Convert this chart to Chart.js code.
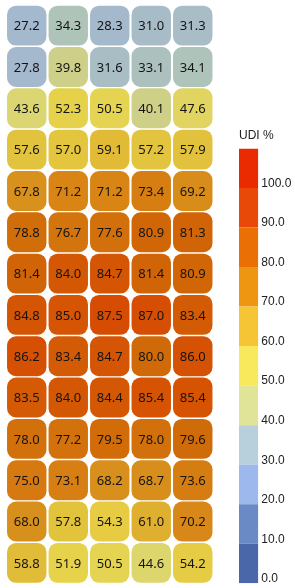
<!DOCTYPE html>
<html>
<head>
<meta charset="utf-8">
<script src="https://cdn.jsdelivr.net/npm/chart.js@4.4.0/dist/chart.umd.min.js"></script>
<style>
  body { margin: 0; background: #fff; }
  #heatBox { position: absolute; left: 0; top: 0; width: 220px; height: 588px; }
  #barBox { position: absolute; left: 220px; top: 0; width: 75px; height: 588px; }
</style>
</head>
<body>
<div id="heatBox"><canvas id="heatChart"></canvas></div>
<div id="barBox"><canvas id="scaleChart"></canvas></div>
<script>
// --- DATA (one array per column, top row first) ---
const rowIds = ['1','2','3','4','5','6','7','8','9','10','11','12','13','14'];
const col1 = [27.2, 27.8, 43.6, 57.6, 67.8, 78.8, 81.4, 84.8, 86.2, 83.5, 78.0, 75.0, 68.0, 58.8];
const col2 = [34.3, 39.8, 52.3, 57.0, 71.2, 76.7, 84.0, 85.0, 83.4, 84.0, 77.2, 73.1, 57.8, 51.9];
const col3 = [28.3, 31.6, 50.5, 59.1, 71.2, 77.6, 84.7, 87.5, 84.7, 84.4, 79.5, 68.2, 54.3, 50.5];
const col4 = [31.0, 33.1, 40.1, 57.2, 73.4, 80.9, 81.4, 87.0, 80.0, 85.4, 78.0, 68.7, 61.0, 44.6];
const col5 = [31.3, 34.1, 47.6, 57.9, 69.2, 81.3, 80.9, 83.4, 86.0, 85.4, 79.6, 73.6, 70.2, 54.2];
const columns = [col1, col2, col3, col4, col5];

// colour scale bins (0-10 ... 100-110) and tick values
const binColors = ['#4a67a9', '#6a8ac6', '#9cb8ec', '#b8cfdc', '#e0e498', '#f8e85c',
                   '#f5c535', '#ee9612', '#ea7005', '#e84808', '#ea2a00'];
const scaleTicks = [0, 10, 20, 30, 40, 50, 60, 70, 80, 90, 100];

// cell fill follows a smooth version of the scale
const cellStops = [
    [25, '#a1b6d2'], [31, '#a8bcc8'], [34.5, '#afc4b8'], [40, '#cfd088'], [44, '#dcd670'],
    [48, '#e2d45e'], [51, '#e6d44e'], [54, '#e6cc44'], [58, '#e2c23c'], [60, '#e0b432'],
    [65, '#dc9e24'], [68, '#d8901c'], [72, '#d88214'], [76, '#d4760e'], [80, '#d06a08'],
    [84, '#d45804'], [88, '#d64a02']
];

function hexToRgb(h) {
    return [parseInt(h.slice(1, 3), 16), parseInt(h.slice(3, 5), 16), parseInt(h.slice(5, 7), 16)];
}

function cellColor(v) {
    if (v <= cellStops[0][0]) return cellStops[0][1];
    for (let i = 1; i < cellStops.length; i++) {
        if (v <= cellStops[i][0]) {
            const [v0, c0] = cellStops[i - 1];
            const [v1, c1] = cellStops[i];
            const t = (v - v0) / (v1 - v0);
            const a = hexToRgb(c0), b = hexToRgb(c1);
            const rgb = a.map((x, k) => Math.round(x + (b[k] - x) * t));
            return `rgb(${rgb[0]},${rgb[1]},${rgb[2]})`;
        }
    }
    return cellStops[cellStops.length - 1][1];
}

// --- HEATMAP (floating horizontal bars, one dataset per column) ---
const cellLabels = {
    id: 'cellLabels',
    afterDatasetsDraw(chart) {
        const ctx = chart.ctx;
        ctx.save();
        ctx.font = '13px "Noto Sans", sans-serif';
        ctx.fillStyle = '#141414';
        ctx.textAlign = 'center';
        ctx.textBaseline = 'middle';
        chart.data.datasets.forEach((ds, di) => {
            chart.getDatasetMeta(di).data.forEach((bar, i) => {
                ctx.fillText(columns[di][i].toFixed(1), (bar.x + bar.base) / 2, bar.y + 1);
            });
        });
        ctx.restore();
    }
};

new Chart(document.getElementById('heatChart'), {
    type: 'bar',
    data: {
        labels: rowIds,
        datasets: columns.map((vals, c) => ({
            data: vals.map(() => [c + 0.025, c + 0.975]),
            backgroundColor: vals.map(cellColor),
            borderWidth: 0,
            borderRadius: 9,
            borderSkipped: false,
            inflateAmount: 0,
            barPercentage: 0.965,
            categoryPercentage: 1
        }))
    },
    options: {
        indexAxis: 'y',
        responsive: true,
        maintainAspectRatio: false,
        animation: false,
        grouped: false,
        layout: { padding: { left: 6, right: 6.5, top: 5, bottom: 4.5 } },
        scales: {
            x: { type: 'linear', min: 0, max: 5, display: false },
            y: { display: false }
        },
        plugins: { legend: { display: false }, tooltip: { enabled: false } }
    },
    plugins: [cellLabels]
});

// --- COLOUR SCALE ---
new Chart(document.getElementById('scaleChart'), {
    type: 'bar',
    data: {
        labels: ['UDI'],
        datasets: binColors.map(c => ({
            data: [10],
            backgroundColor: c,
            borderWidth: 0,
            inflateAmount: 0,
            barPercentage: 1,
            categoryPercentage: 1
        }))
    },
    options: {
        responsive: true,
        maintainAspectRatio: false,
        animation: false,
        layout: { padding: { left: 19, right: 0, top: 0, bottom: 4.7 } },
        scales: {
            x: { stacked: true, display: false },
            y: {
                stacked: true,
                position: 'right',
                min: 0,
                max: 110,
                afterBuildTicks: (axis) => { axis.ticks = scaleTicks.map(v => ({ value: v })); },
                afterFit: (axis) => {
                    axis.width = 36.7;
                    axis.paddingTop = 0;
                    axis.paddingBottom = 0;
                },
                grid: { display: false, drawTicks: false },
                border: { display: false },
                ticks: {
                    padding: 3,
                    labelOffset: -4.5,
                    color: '#222',
                    font: { family: '"Liberation Sans", Arial, sans-serif', size: 12 },
                    callback: (v) => Number(v).toFixed(1)
                }
            }
        },
        plugins: {
            legend: { display: false },
            tooltip: { enabled: false },
            title: {
                display: true,
                text: 'UDI %',
                align: 'start',
                color: '#222',
                font: { family: '"Liberation Sans", Arial, sans-serif', size: 12, weight: 'normal' },
                padding: { top: 128, bottom: 6 }
            }
        }
    }
});
</script>
</body>
</html>
